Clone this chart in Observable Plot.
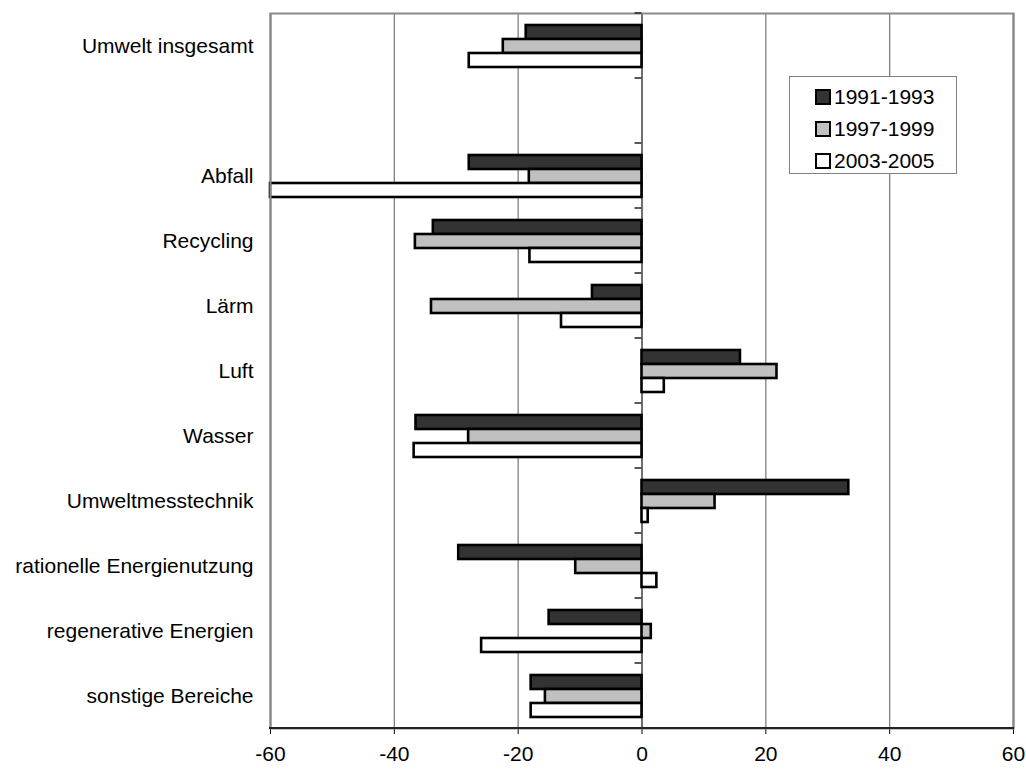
<!DOCTYPE html>
<html>
<head>
<meta charset="utf-8">
<script src="https://cdn.jsdelivr.net/npm/d3@7"></script>
<script src="https://cdn.jsdelivr.net/npm/@observablehq/plot@0.6"></script>
<style>
  body { margin: 0; background: #fff; font-family: "Liberation Sans", Arial, sans-serif; }
  #wrap { position: relative; width: 1026px; height: 769px; }
  #legend { position: absolute; left: 789px; top: 76px; width: 168px; height: 98px; box-sizing: border-box;
            border: 1.5px solid #808080; background: #fff; padding: 4px 0 0 25px; }
  .item { display: flex; align-items: center; height: 32px; font-size: 21px; color: #000; }
  .sw { width: 12px; height: 12px; border: 2px solid #000; margin-right: 3px; }
</style>
</head>
<body>
<div id="wrap"></div>
<script>
// ---- data ----
const categories = ["Umwelt insgesamt", " ", "Abfall", "Recycling", "Lärm", "Luft", "Wasser",
  "Umweltmesstechnik", "rationelle Energienutzung", "regenerative Energien", "sonstige Bereiche"];
const periods = ["1991-1993", "1997-1999", "2003-2005"];
const v1991 = [-18.7, null, -27.9, -33.7, -8.0, 15.9, -36.5, 33.4, -29.6, -15.0, -17.9];
const v1997 = [-22.4, null, -18.2, -36.6, -34.0, 21.8, -28.0, 11.8, -10.7, 1.5, -15.6];
const v2003 = [-27.9, null, -60.0, -18.1, -13.0, 3.6, -36.8, 1.0, 2.4, -25.9, -17.9];
const xTicks = [-60, -40, -20, 0, 20, 40, 60];
const colors = ["#333333", "#c0c0c0", "#ffffff"];

// ---- tables built from the arrays ----
const series = [v1991, v1997, v2003];
const rows = categories.flatMap((c, i) => periods.map((p, j) => ({category: c, period: p, value: series[j][i]})));
const gridRows = categories.flatMap(c => xTicks.map(t => ({category: c, tick: t})));

function build(useSuper) {
  const marks = [
    Plot.ruleX(gridRows.filter(d => Math.abs(d.tick) !== 60 && d.tick !== 0), {x: "tick", fy: "category", stroke: "#808080", strokeWidth: 1.3}),
    Plot.ruleX(gridRows.filter(d => Math.abs(d.tick) === 60), {x: "tick", fy: "category", stroke: "#8a8a8a", strokeWidth: 2}),
    Plot.ruleX(gridRows.filter(d => d.tick === 0), {x: "tick", fy: "category", stroke: "#707070", strokeWidth: 2}),
    Plot.barX(rows, {x1: 0, x2: "value", y: "period", fy: "category", fill: "period", stroke: "#000", strokeWidth: 2.6})
  ];
  if (useSuper) {
    marks.push(Plot.frame({facet: "super", stroke: "#8a8a8a", strokeWidth: 2}));
  }
  return Plot.plot({
    width: 1026,
    height: 769,
    marginLeft: 270,
    marginRight: 13,
    marginTop: 11,
    marginBottom: 40,
    style: {fontSize: "21px", fontFamily: "'Liberation Sans', Arial, sans-serif", color: "#000", background: "transparent"},
    x: {domain: [-60, 60], ticks: xTicks, tickSize: 6, tickPadding: 12, label: null, tickFormat: d => String(d)},
    y: {domain: periods, paddingInner: 0, paddingOuter: 0.75, axis: null},
    fy: {domain: categories, padding: 0, axis: "left", tickSize: 0, tickPadding: 17, label: null},
    color: {domain: periods, range: colors},
    marks
  });
}

let plot, superOK = true;
try { plot = build(true); } catch (e) { superOK = false; plot = build(false); }
document.getElementById("wrap").appendChild(plot);

// decorations using the plot's own scales: category boundary ticks on the zero axis, bottom axis line
const svg = d3.select(plot.tagName.toLowerCase() === "svg" ? plot : plot.querySelector("svg"));
const sx = plot.scale("x"), sfy = plot.scale("fy");
const x0 = sx.apply(0), xL = sx.apply(-60), xR = sx.apply(60);
const bw = sfy.bandwidth;
const yTop = sfy.apply(categories[0]);
const yBot = sfy.apply(categories[categories.length - 1]) + bw;
const g = svg.append("g");
categories.forEach(c => {
  const y = sfy.apply(c);
  g.append("line").attr("x1", x0 - 7).attr("x2", x0).attr("y1", y).attr("y2", y).attr("stroke", "#222").attr("stroke-width", 1.5);
});
if (!superOK) {
  g.append("line").attr("x1", xL).attr("x2", xR).attr("y1", yTop).attr("y2", yTop).attr("stroke", "#8a8a8a").attr("stroke-width", 2);
}
g.append("line").attr("x1", xL - 1).attr("x2", xR + 1).attr("y1", yBot).attr("y2", yBot).attr("stroke", "#222").attr("stroke-width", 2);

// legend (inside the plot area, as in the original)
const legend = d3.select("#wrap").append("div").attr("id", "legend");
periods.forEach((p, j) => {
  const it = legend.append("div").attr("class", "item");
  it.append("div").attr("class", "sw").style("background", colors[j]);
  it.append("span").text(p);
});
</script>
</body>
</html>
